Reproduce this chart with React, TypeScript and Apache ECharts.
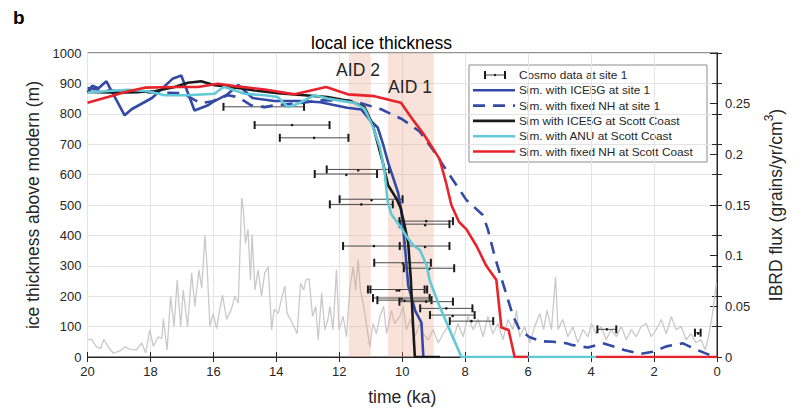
import React, { useEffect, useRef } from "react";
import * as echarts from "echarts";

const FONT = "'Liberation Sans', Arial, Helvetica, sans-serif";
const TXT = "#262626";

// ---------- data (time in ka, thickness in m, flux in grains/yr/cm3) ----------
const aidBands = [
  [11.7, 11.0],
  [10.45, 9.0],
];
const aidLabels = ["AID 2", "AID 1"];

const legendLabels = [
  "Cosmo data at site 1",
  "Sim. with ICE5G at site 1",
  "Sim. with fixed NH at site 1",
  "Sim with ICE5G at Scott Coast",
  "Sim. with ANU at Scott Coast",
  "Sim. with fixed NH at Scott Coast",
];

// cosmo data: [center ka, thickness m, half-width ka]
const cosmoData = [
  [14.4, 823, 1.28], [13.5, 763, 1.19], [12.8, 721, 1.09], [11.41, 617, 0.99],
  [11.79, 602, 0.99], [10.99, 519, 1.0], [11.3, 502, 1.0], [9.24, 447, 0.85],
  [9.29, 437, 0.79], [10.9, 365, 0.98], [9.29, 365, 0.79], [9.99, 310, 0.9],
  [9.15, 292, 0.8], [10.19, 222, 0.9], [10.11, 222, 0.9], [10.03, 194, 0.9],
  [9.93, 187, 0.86], [9.24, 182, 0.85], [8.6, 160, 0.83], [8.41, 138, 0.71],
  [7.8, 118, 0.69], [3.5, 91, 0.3], [0.61, 80, 0.09],
];

const blueSite1 = [
  [20.0, 870], [19.85, 892], [19.65, 884], [19.4, 907], [18.82, 795], [18.6, 815],
  [17.95, 852], [17.3, 915], [17.02, 926], [16.6, 811], [16.17, 828], [16.0, 840],
  [15.58, 862], [15.21, 895], [14.76, 852], [14.06, 842], [13.25, 842], [12.6, 838],
  [11.75, 820], [11.3, 814], [11.03, 780], [10.78, 755], [10.61, 700], [10.45, 640],
  [10.29, 590], [10.13, 540], [10.03, 480], [9.95, 400], [9.9, 345], [9.81, 235],
  [9.71, 198], [9.58, 150], [9.39, 113], [9.33, 0],
];

const dashedSite1 = [
  [20.0, 885], [19.6, 880], [19.0, 874], [18.0, 870], [17.0, 868], [16.4, 835],
  [16.07, 840], [15.54, 861], [15.22, 855], [14.8, 828], [14.37, 822], [14.06, 828],
  [13.42, 833], [12.58, 844], [11.73, 844], [11.31, 835], [10.67, 815], [10.0, 782],
  [9.44, 741], [9.02, 681], [8.6, 615], [8.39, 582], [8.17, 549], [7.96, 516],
  [7.85, 506], [7.44, 467], [7.28, 420], [7.06, 330], [6.9, 275], [6.8, 242],
  [6.48, 135], [6.27, 89], [5.95, 65], [5.6, 52], [5.21, 50], [4.79, 45], [4.58, 39],
  [4.1, 31], [3.63, 45], [3.41, 39], [2.95, 23], [2.45, 10], [2.04, 17], [1.61, 35],
  [1.08, 45], [0.7, 26], [0.24, 7], [0.0, 3],
];

const blackScott = [
  [20.0, 872], [18.93, 869], [17.87, 874], [17.23, 888], [16.81, 902], [16.39, 907],
  [15.96, 894], [15.43, 888], [14.69, 877], [13.95, 868], [13.1, 861], [12.37, 855],
  [11.63, 841], [11.2, 822], [10.94, 765], [10.61, 637], [10.45, 565], [10.18, 520],
  [10.05, 490], [9.92, 430], [9.81, 374], [9.73, 260], [9.66, 111], [9.6, 0], [8.8, 0],
];

const cyanScott = [
  [20.0, 870], [18.71, 879], [18.08, 874], [17.55, 861], [16.81, 861], [15.96, 866],
  [15.72, 886], [15.64, 888], [15.01, 866], [14.37, 861], [13.95, 855], [13.63, 822],
  [13.32, 833], [12.79, 861], [12.37, 850], [11.52, 836], [11.2, 817], [10.94, 760],
  [10.71, 690], [10.56, 610], [10.47, 516], [10.35, 470], [10.08, 432], [9.87, 398],
  [9.66, 368], [9.44, 352], [9.23, 303], [9.13, 253], [8.81, 165], [8.49, 89],
  [8.12, 0], [3.84, 0],
];

const redScott = [
  [20.0, 836], [19.35, 855], [18.71, 874], [18.18, 886], [17.23, 888], [16.49, 888],
  [15.86, 899], [15.33, 891], [14.37, 880], [13.42, 864], [12.42, 888], [11.73, 864],
  [10.88, 858], [10.04, 836], [9.66, 780], [9.34, 736], [9.05, 690], [8.81, 650],
  [8.6, 570], [8.44, 500], [8.2, 445], [7.96, 420], [7.64, 365], [7.33, 300],
  [7.01, 253], [6.85, 97], [6.62, 89], [6.43, 0], [6.0, 0], [5.0, null], [3.84, 0],
  [0.0, 0],
];

const ibrdFlux = [
  [19.98, 0.017], [19.87, 0.0175], [19.71, 0.01], [19.58, 0.0086], [19.48, 0.0175],
  [19.34, 0.01], [19.18, 0.0037], [18.97, 0.006], [18.81, 0.01], [18.65, 0.0076],
  [18.44, 0.007], [18.28, 0.014], [18.15, 0.004], [18.02, 0.027], [17.91, 0.0107],
  [17.75, 0.02], [17.64, 0.018], [17.59, 0.038], [17.47, 0.007], [17.36, 0.06],
  [17.25, 0.03], [17.15, 0.076], [17.04, 0.03], [16.96, 0.066], [16.82, 0.03],
  [16.69, 0.083], [16.59, 0.05], [16.46, 0.086], [16.37, 0.068], [16.27, 0.12],
  [16.2, 0.089], [16.11, 0.03], [16.01, 0.043], [15.9, 0.028], [15.82, 0.043],
  [15.71, 0.061], [15.58, 0.037], [15.42, 0.048], [15.32, 0.06], [15.21, 0.053],
  [15.1, 0.157], [15.05, 0.145], [14.98, 0.112], [14.9, 0.126], [14.82, 0.076],
  [14.77, 0.121], [14.68, 0.066], [14.58, 0.086], [14.47, 0.06], [14.37, 0.083],
  [14.26, 0.089], [14.15, 0.027], [14.07, 0.047], [13.94, 0.043], [13.83, 0.058],
  [13.73, 0.07], [13.66, 0.043], [13.55, 0.037], [13.44, 0.03], [13.34, 0.023],
  [13.23, 0.073], [13.13, 0.066], [13.06, 0.076], [12.96, 0.077], [12.85, 0.04],
  [12.75, 0.05], [12.67, 0.017], [12.56, 0.063], [12.46, 0.027], [12.36, 0.037],
  [12.3, 0.05], [12.2, 0.027], [12.09, 0.086], [12.01, 0.027], [11.88, 0.04],
  [11.77, 0.02], [11.67, 0.066], [11.56, 0.089], [11.48, 0.066], [11.4, 0.096],
  [11.33, 0.066], [11.24, 0.053], [11.14, 0.033], [11.03, 0.01], [10.93, 0.033],
  [10.82, 0.023], [10.71, 0.04], [10.59, 0.05], [10.5, 0.023], [10.34, 0.046],
  [10.24, 0.033], [10.08, 0.04], [9.97, 0.05], [9.87, 0.027], [9.74, 0.037],
  [9.6, 0.02], [9.44, 0.033], [9.34, 0.023], [9.18, 0.017], [9.02, 0.027],
  [8.86, 0.014], [8.7, 0.023], [8.55, 0.03], [8.39, 0.017], [8.23, 0.033],
  [8.07, 0.02], [7.91, 0.04], [7.75, 0.027], [7.59, 0.037], [7.43, 0.02],
  [7.28, 0.04], [7.12, 0.023], [6.96, 0.033], [6.8, 0.017], [6.64, 0.037],
  [6.48, 0.027], [6.37, 0.046], [6.27, 0.02], [6.11, 0.03], [5.95, 0.014],
  [5.79, 0.03], [5.63, 0.043], [5.51, 0.027], [5.4, 0.046], [5.26, 0.027],
  [5.13, 0.079], [5.05, 0.027], [4.9, 0.037], [4.74, 0.02], [4.58, 0.03],
  [4.42, 0.014], [4.26, 0.027], [4.1, 0.02], [3.99, 0.033], [3.84, 0.023],
  [3.68, 0.03], [3.52, 0.017], [3.36, 0.027], [3.2, 0.02], [3.04, 0.03],
  [2.88, 0.017], [2.72, 0.027], [2.57, 0.02], [2.41, 0.03], [2.25, 0.033],
  [2.09, 0.02], [1.93, 0.027], [1.77, 0.037], [1.61, 0.023], [1.45, 0.04],
  [1.3, 0.027], [1.14, 0.03], [0.98, 0.017], [0.83, 0.023], [0.67, 0.014],
  [0.51, 0.017], [0.37, 0.007], [0.27, 0.02], [0.14, 0.043], [0.02, 0.073],
];

// ---------- styles ----------
const C_BLUE = "#3349a6";
const C_BLACK = "#1a1a1a";
const C_CYAN = "#62c9d6";
const C_RED = "#e8232b";
const C_GRAY = "#c9c9c9";
const LW = 2.6;

const simSeries = [
  { data: blueSite1, color: C_BLUE, dash: "solid" },
  { data: dashedSite1, color: C_BLUE, dash: [12, 8] },
  { data: blackScott, color: C_BLACK, dash: "solid" },
  { data: cyanScott, color: C_CYAN, dash: "solid" },
  { data: redScott, color: C_RED, dash: "solid" },
];

function buildLegend(): any[] {
  const x0 = 469, y0 = 65, w = 238, h = 97;
  const rowY = (i: number) => y0 + 10 + i * 15.3;
  const els: any[] = [
    { type: "rect", shape: { x: x0, y: y0, width: w, height: h }, style: { fill: "#fff", stroke: "#8c8c8c", lineWidth: 1 } },
  ];
  legendLabels.forEach((label, i) => {
    const y = rowY(i);
    if (i === 0) {
      els.push(
        { type: "line", shape: { x1: 485, y1: y, x2: 505, y2: y }, style: { stroke: "#444", lineWidth: 1 } },
        { type: "line", shape: { x1: 485, y1: y - 4, x2: 485, y2: y + 4 }, style: { stroke: C_BLACK, lineWidth: 2 } },
        { type: "line", shape: { x1: 505, y1: y - 4, x2: 505, y2: y + 4 }, style: { stroke: C_BLACK, lineWidth: 2 } },
        { type: "circle", shape: { cx: 495, cy: y, r: 1.2 }, style: { fill: C_BLACK } }
      );
    } else {
      const s = simSeries[i - 1];
      els.push({
        type: "line",
        shape: { x1: 473, y1: y, x2: 515, y2: y },
        style: { stroke: s.color, lineWidth: LW, lineDash: s.dash === "solid" ? null : s.dash },
      });
    }
    els.push({
      type: "text",
      x: 519,
      y,
      style: { text: label, fontSize: 11.8, fontFamily: FONT, fill: TXT, verticalAlign: "middle", align: "left" },
    });
  });
  return [{ type: "group", z: 100, children: els }];
}

export default function App() {
  const ref = useRef<HTMLDivElement>(null);
  useEffect(() => {
    const chart = echarts.init(ref.current!, null, { renderer: "svg" });
    const axisText = { color: TXT, fontSize: 13, fontFamily: FONT };
    const nameText = { color: TXT, fontSize: 17.5, fontFamily: FONT };
    const option: any = {
      animation: false,
      textStyle: { fontFamily: FONT },
      title: {
        text: "local ice thickness",
        left: 306,
        top: 29,
        textStyle: { fontSize: 17.5, fontWeight: "normal", color: "#000", fontFamily: FONT },
      },
      grid: { left: 87.5, right: 84, top: 53, bottom: 59, show: true, borderColor: TXT, borderWidth: 1, backgroundColor: "transparent" },
      xAxis: [
        {
          type: "value", min: 0, max: 20, interval: 2, inverse: true,
          axisLine: { show: true, lineStyle: { color: TXT } },
          axisTick: { show: true, inside: true, length: 5, lineStyle: { color: TXT } },
          axisLabel: { ...axisText, margin: 8, formatter: (v: number) => String(v) },
          splitLine: { show: true, lineStyle: { color: "#e4e4e4" } },
          name: "time (ka)", nameLocation: "middle", nameGap: 31, nameTextStyle: nameText,
        },
        {
          type: "value", position: "top", min: 0, max: 20, interval: 2, inverse: true,
          axisLine: { show: false }, axisLabel: { show: false }, splitLine: { show: false },
          axisTick: { show: true, inside: true, length: 5, lineStyle: { color: TXT } },
        },
      ],
      yAxis: [
        {
          type: "value", min: 0, max: 1000, interval: 100,
          axisLine: { show: true, lineStyle: { color: TXT } },
          axisTick: { show: true, inside: true, length: 5, lineStyle: { color: TXT } },
          axisLabel: { ...axisText, margin: 6, formatter: (v: number) => String(v) },
          splitLine: { show: true, lineStyle: { color: "#e4e4e4" } },
          name: "ice thickness above modern (m)", nameLocation: "middle", nameGap: 46, nameTextStyle: nameText,
        },
        {
          type: "value", position: "right", min: 0, max: 0.3, interval: 0.05,
          axisLine: { show: true, lineStyle: { color: TXT } },
          axisTick: { show: true, inside: true, length: 7, lineStyle: { color: TXT } },
          axisLabel: { ...axisText, margin: 8, formatter: (v: number) => (v > 0.27 ? "" : String(+v.toFixed(2))) },
          splitLine: { show: false },
          name: "{a|IBRD flux (grains/yr/cm}{s|3}{a|)}", nameLocation: "middle", nameGap: 46,
          nameTextStyle: {
            color: TXT, fontFamily: FONT,
            rich: {
              a: { fontSize: 17.5, color: TXT, fontFamily: FONT, lineHeight: 22, verticalAlign: "bottom" },
              s: { fontSize: 12, color: TXT, fontFamily: FONT, lineHeight: 22, verticalAlign: "top" },
            },
          },
        },
        {
          type: "value", position: "right", min: 0, max: 1000, interval: 100,
          axisLine: { show: false }, axisLabel: { show: false }, splitLine: { show: false },
          axisTick: { show: true, inside: true, length: 5, lineStyle: { color: TXT } },
        },
      ],
      graphic: [
        { type: "text", x: 13, y: 8, style: { text: "b", fontSize: 19, fontWeight: "bold", fontFamily: FONT, fill: "#000" } },
        ...aidLabels.map((t, i) => ({
          type: "text", z: 50,
          x: i === 0 ? 358 : 410, y: i === 0 ? 70 : 87,
          style: { text: t, fontSize: 17.5, fontFamily: FONT, fill: TXT, align: "center", verticalAlign: "middle" },
        })),
        ...buildLegend(),
      ],
      series: [
        {
          type: "line", name: "IBRD flux", yAxisIndex: 1, data: ibrdFlux, symbol: "none", z: 1,
          lineStyle: { color: C_GRAY, width: 1.3 },
        },
        {
          type: "custom", name: "AID", data: aidBands, z: 2, encode: { x: [0, 1] },
          renderItem: (_p: any, api: any) => {
            const a = api.coord([api.value(0), 1000]);
            const b = api.coord([api.value(1), 0]);
            return {
              type: "rect",
              shape: { x: Math.min(a[0], b[0]), y: a[1], width: Math.abs(b[0] - a[0]), height: b[1] - a[1] },
              style: { fill: "rgba(232,160,128,0.3)" },
            };
          },
        },
        {
          type: "custom", name: legendLabels[0], data: cosmoData, z: 3, encode: { x: 0, y: 1 },
          renderItem: (_p: any, api: any) => {
            const ka = api.value(0), m = api.value(1), e = api.value(2);
            const a = api.coord([ka + e, m]);
            const b = api.coord([ka - e, m]);
            const c = api.coord([ka, m]);
            return {
              type: "group",
              children: [
                { type: "line", shape: { x1: a[0], y1: a[1], x2: b[0], y2: b[1] }, style: { stroke: "#4a4a4a", lineWidth: 1 } },
                { type: "line", shape: { x1: a[0], y1: a[1] - 4, x2: a[0], y2: a[1] + 4 }, style: { stroke: C_BLACK, lineWidth: 2 } },
                { type: "line", shape: { x1: b[0], y1: b[1] - 4, x2: b[0], y2: b[1] + 4 }, style: { stroke: C_BLACK, lineWidth: 2 } },
                { type: "circle", shape: { cx: c[0], cy: c[1], r: 1.3 }, style: { fill: C_BLACK } },
              ],
            };
          },
        },
        ...simSeries.map((s, i) => ({
          type: "line", name: legendLabels[i + 1], data: s.data, symbol: "none", z: 4,
          connectNulls: false,
          lineStyle: { color: s.color, width: LW, type: s.dash },
        })),
      ],
    };
    chart.setOption(option);
    return () => chart.dispose();
  }, []);
  return <div ref={ref} style={{ position: "absolute", left: 0, top: 0, width: 801, height: 416 }} />;
}
